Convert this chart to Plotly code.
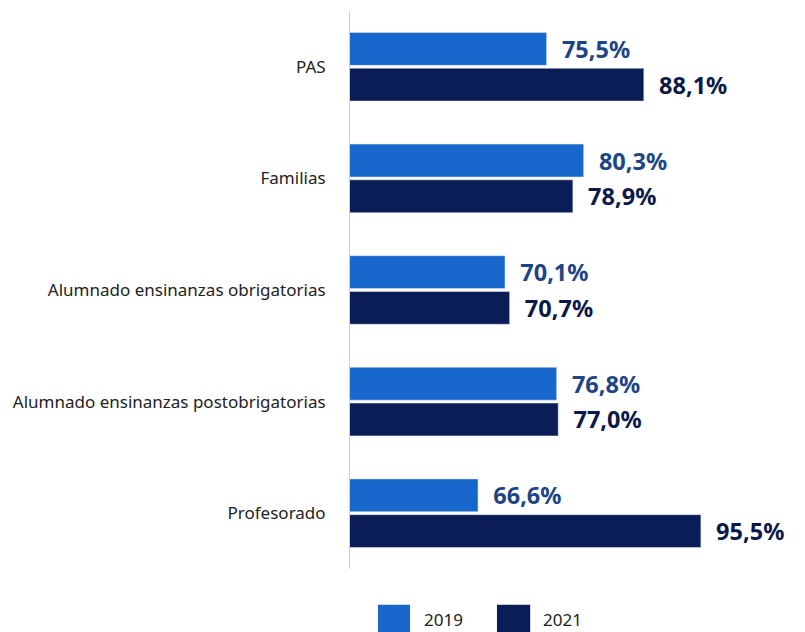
import plotly.graph_objects as go

categories = ["PAS", "Familias", "Alumnado ensinanzas obrigatorias",
              "Alumnado ensinanzas postobrigatorias", "Profesorado"]
vals_2019 = [75.5, 80.3, 70.1, 76.8, 66.6]
vals_2021 = [88.1, 78.9, 70.7, 77.0, 95.5]

c2019 = "#1767cc"
c2021 = "#0b1d57"
font = "Noto Sans"

fig = go.Figure()
fig.add_trace(go.Bar(
    y=categories, x=vals_2019, orientation="h", name="2019",
    marker_color=c2019, texttemplate="  <b>%{x:.1f}%</b>", textposition="outside",
    textfont=dict(family=font, size=23.5, color="#1d4585"), cliponaxis=False
))
fig.add_trace(go.Bar(
    y=categories, x=vals_2021, orientation="h", name="2021",
    marker_color=c2021, texttemplate="  <b>%{x:.1f}%</b>", textposition="outside",
    textfont=dict(family=font, size=23.5, color="#0c1847"), cliponaxis=False
))

# legend drawn by hand, with large square swatches
legend_items = [("2019", c2019, 0.0615, 0.132, 0.158), ("2021", c2021, 0.323, 0.396, 0.42)]
for label, col, x0, x1, xt in legend_items:
    fig.add_shape(type="rect", xref="paper", yref="paper", x0=x0, x1=x1,
                  y0=-0.113, y1=-0.064, fillcolor=col, line_width=0)
    fig.add_annotation(xref="paper", yref="paper", x=xt, y=-0.09, text=label,
                       showarrow=False, xanchor="left", yanchor="middle",
                       font=dict(family=font, size=17, color="#222"))

# page body adds an 8px offset, so the figure is 8px smaller than the window
fig.update_layout(
    width=797, height=624,
    margin=dict(l=342, r=0, t=3, b=63, autoexpand=False),
    barmode="group", bargap=0.36, bargroupgap=0.08,
    separators=",.",
    showlegend=False,
    plot_bgcolor="white", paper_bgcolor="white",
    font=dict(family=font, size=16, color="#222"),
    xaxis=dict(range=[50, 109], visible=False, automargin=False),
    yaxis=dict(autorange="reversed", showline=True, linecolor="#cfcfcf", linewidth=1,
               automargin=False, ticks="", ticklabelstandoff=20,
               tickfont=dict(size=17, color="#222")),
)

fig.write_html("out.html")
